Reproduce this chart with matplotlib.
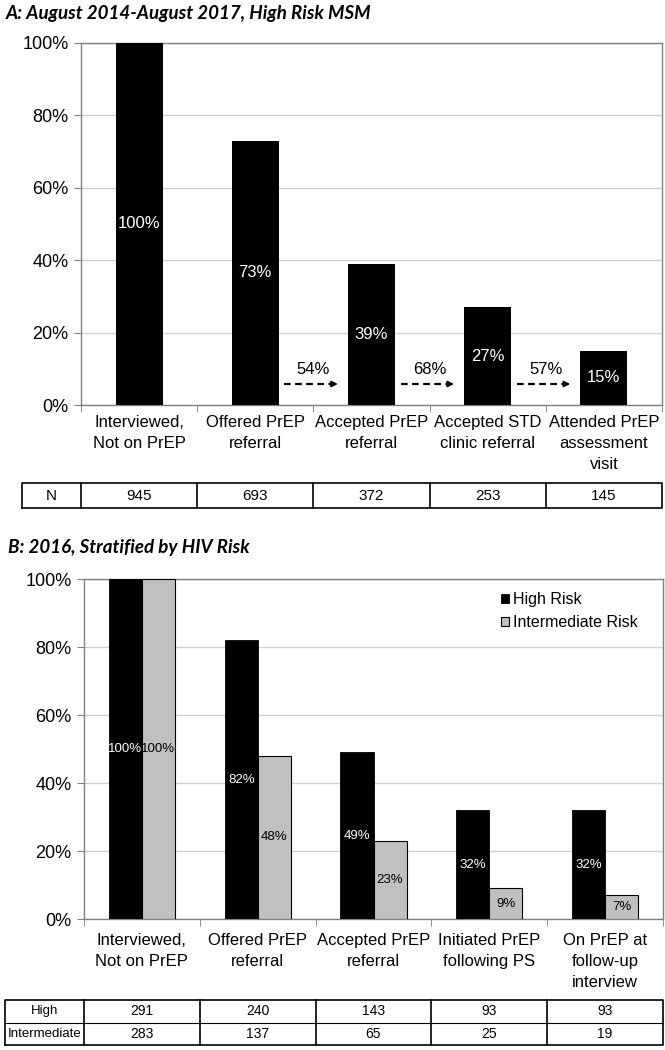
import matplotlib
matplotlib.use('Agg')
import matplotlib.pyplot as plt
import numpy as np
from matplotlib.patches import Patch
from matplotlib import font_manager

# ---------------- data ----------------
cats_a = ["Interviewed,\nNot on PrEP", "Offered PrEP\nreferral", "Accepted PrEP\nreferral",
          "Accepted STD\nclinic referral", "Attended PrEP\nassessment\nvisit"]
pct_a = [100, 73, 39, 27, 15]
n_a = [945, 693, 372, 253, 145]
conv_from = [1, 2, 3]          # arrow starts after this stage
conv_pct = [54, 68, 57]

cats_b = ["Interviewed,\nNot on PrEP", "Offered PrEP\nreferral", "Accepted PrEP\nreferral",
          "Initiated PrEP\nfollowing PS", "On PrEP at\nfollow-up\ninterview"]
high_b = [100, 82, 49, 32, 32]
inter_b = [100, 48, 23, 9, 7]
n_high = [291, 240, 143, 93, 93]
n_inter = [283, 137, 65, 25, 19]
series_b = ["High Risk", "Intermediate Risk"]
row_b = ["High", "Intermediate"]

yticks = [0, 20, 40, 60, 80, 100]

# ---------------- fonts ----------------
avail = {f.name for f in font_manager.fontManager.ttflist}
FONT = 'Liberation Sans' if 'Liberation Sans' in avail else 'DejaVu Sans'
TITLE = 'Lato' if 'Lato' in avail else 'DejaVu Sans'
plt.rcParams['font.family'] = [FONT, 'DejaVu Sans']

W, H = 665, 1050
fig = plt.figure(figsize=(W / 100, H / 100), dpi=100)
SPINE = '#808080'
GRID = '#d0d0d0'


def px_axes(left, top, right, bottom):
    return fig.add_axes([left / W, 1 - bottom / H, (right - left) / W, (bottom - top) / H])


def style_axes(ax, cats, pad):
    n = len(cats)
    ax.set_xlim(-0.5, n - 0.5)
    ax.set_ylim(0, 100)
    ax.set_yticks(yticks)
    ax.set_yticklabels([f"{v}%" for v in yticks], fontsize=13)
    ax.yaxis.grid(True, color=GRID, lw=1)
    ax.set_axisbelow(True)
    for s in ax.spines.values():
        s.set_color(SPINE)
        s.set_linewidth(1)
    ax.set_xticks(np.arange(n))
    ax.set_xticklabels(cats, fontsize=12, linespacing=1.52)
    ax.tick_params(axis='x', which='major', length=0, pad=pad)
    ax.set_xticks(np.arange(-0.5, n, 1), minor=True)
    ax.tick_params(axis='x', which='minor', length=5, color=SPINE)
    ax.tick_params(axis='y', length=5, color=SPINE, pad=4)


# ---------------- Panel A ----------------
fig.text(6 / W, 1 - 14 / H, "A: August 2014-August 2017, High Risk MSM", family=TITLE,
         fontsize=13.5, fontweight='bold', fontstyle='italic', va='center', ha='left')

axA = px_axes(81, 43, 662, 405)
xa = np.arange(len(cats_a))
axA.bar(xa, pct_a, width=0.405, color='black', zorder=3)
style_axes(axA, cats_a, pad=7)
for xi, v in zip(xa, pct_a):
    axA.text(xi, v / 2, f"{v}%", color='white', ha='center', va='center', fontsize=12, zorder=4)

for i, p in zip(conv_from, conv_pct):
    x0, x1 = i + 0.25, i + 0.71
    axA.plot([x0, x1 - 0.03], [5.8, 5.8], color='black', lw=1.6, ls=(0, (3, 2)), zorder=4)
    axA.annotate('', xy=(x1, 5.8), xytext=(x1 - 0.05, 5.8),
                 arrowprops=dict(arrowstyle='-|>', color='black', lw=1.2, mutation_scale=9,
                                 shrinkA=0, shrinkB=0), zorder=4)
    axA.text(i + 0.5, 9.8, f"{p}%", ha='center', va='center', fontsize=12, zorder=4)

# table A
pxu_a = (662 - 81) / 5
la = -0.5 - (81 - 22) / pxu_a
axTA = px_axes(22, 483, 662, 508)
axTA.set_xlim(la, 4.5)
axTA.set_ylim(0, 1)
axTA.axis('off')
axTA.plot([la, 4.5, 4.5, la, la], [0, 0, 1, 1, 0], color='black', lw=1.2, clip_on=False)
for b in np.arange(-0.5, 4.5, 1):
    axTA.plot([b, b], [0, 1], color='black', lw=1.2, clip_on=False)
axTA.text((la - 0.5) / 2, 0.5, "N", ha='center', va='center', fontsize=11)
for xi, v in zip(xa, n_a):
    axTA.text(xi, 0.5, str(v), ha='center', va='center', fontsize=11)

# ---------------- Panel B ----------------
fig.text(8 / W, 1 - 548 / H, "B: 2016, Stratified by HIV Risk", family=TITLE,
         fontsize=13.5, fontweight='bold', fontstyle='italic', va='center', ha='left')

axB = px_axes(84, 579, 663, 919)
xb = np.arange(len(cats_b))
bw = 0.285
axB.bar(xb - bw / 2, high_b, width=bw, color='black', edgecolor='black', lw=0.6, zorder=3)
axB.bar(xb + bw / 2, inter_b, width=bw, color='#c0c0c0', edgecolor='black', lw=0.8, zorder=3)
style_axes(axB, cats_b, pad=10)
for xi, v in zip(xb, high_b):
    axB.text(xi - bw / 2, v / 2, f"{v}%", color='white', ha='center', va='center', fontsize=9.5, zorder=4)
for xi, v in zip(xb, inter_b):
    axB.text(xi + bw / 2, v / 2, f"{v}%", color='black', ha='center', va='center', fontsize=9.5, zorder=4)

handles = [Patch(facecolor='black', edgecolor='black', lw=0.6),
           Patch(facecolor='#c0c0c0', edgecolor='black', lw=0.8)]
axB.legend(handles, series_b, loc='upper left', bbox_to_anchor=((501 - 84) / 579, (919 - 592) / 340),
           frameon=False, fontsize=11.5, handlelength=0.5, handleheight=0.5, handletextpad=0.25,
           labelspacing=0.5, borderpad=0, borderaxespad=0)

# table B
pxu_b = (663 - 84) / 5
lb = -0.5 - (84 - 5) / pxu_b
axTB = px_axes(5, 1000, 663, 1045)
axTB.set_xlim(lb, 4.5)
axTB.set_ylim(0, 2)
axTB.axis('off')
axTB.plot([lb, 4.5, 4.5, lb, lb], [0, 0, 2, 2, 0], color='black', lw=1.2, clip_on=False)
axTB.plot([lb, 4.5], [1, 1], color='black', lw=0.8, clip_on=False)
for b in np.arange(-0.5, 4.5, 1):
    axTB.plot([b, b], [0, 2], color='black', lw=1.2, clip_on=False)
for r, (name, vals) in enumerate(zip(row_b, [n_high, n_inter])):
    yc = 1.5 - r
    axTB.text((lb - 0.5) / 2, yc, name, ha='center', va='center', fontsize=9.5)
    for xi, v in zip(xb, vals):
        axTB.text(xi, yc, str(v), ha='center', va='center', fontsize=10)

fig.savefig('out.png', dpi=100)
